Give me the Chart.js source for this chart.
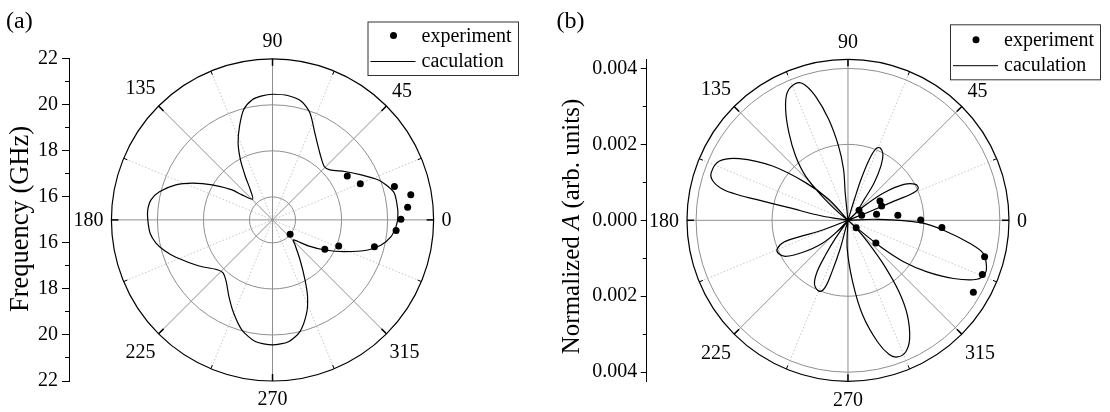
<!DOCTYPE html>
<html><head><meta charset="utf-8">
<script src="https://cdn.jsdelivr.net/npm/chart.js@4.4.1/dist/chart.umd.min.js"></script>
<style>
html,body{margin:0;padding:0;background:#fff;}
#wrap{position:relative;width:1110px;height:412px;overflow:hidden;}
.pane{position:absolute;top:0;width:555px;height:412px;}
</style></head><body>
<div id="wrap">
<div class="pane" style="left:0"><canvas id="ca" width="555" height="412"></canvas></div>
<div class="pane" style="left:555px"><canvas id="cb" width="555" height="412"></canvas></div>
</div>
<script>
// ---------------- shared ----------------
const angleLabels = [0, 45, 90, 135, 180, 225, 270, 315];
const legendLabels = ['experiment', 'caculation'];

// ---------------- panel (a): frequency (GHz) ----------------
const freqCenter = 15;
const freqMajorTicks = [16, 18, 20, 22];
const freqMinorTicks = [17, 19, 21];
const freqRings = [16, 18, 20];
const freqOuter = 22;
const calcA_theta = [0, 4.5, 12.3, 17, 20.7, 26.7, 33.6, 40.9, 45.7, 54.4, 63.8, 70.5, 76.1, 82.6,
  90, 94.9, 99.8, 104.8, 109.6, 114.3, 118.3, 122.2, 126.6, 134, 140.8, 143.6, 150, 155.5, 160.2, 166.1, 170.7, 175.5,
  180, 186.2, 191.2, 195.7, 201, 211.9, 220.7, 226.5, 232.9, 240.2, 247.3, 254.4, 261.9,
  270, 277.5, 283.9, 290.2, 294.7, 298.6, 304.7, 312.2, 316.4, 324.2, 330.3, 336.5, 342.6, 347.1, 352, 356.9, 360];
const calcA_r = [20.48, 20.5, 20.46, 20.2, 19.93, 19.35, 18.8, 18.32, 18.24, 18.56, 19.2, 19.92, 20.3, 20.44,
  20.46, 20.41, 20.29, 19.95, 19.31, 18.66, 17.96, 17.23, 16.63, 16.25, 16.72, 17.2, 18.05, 18.85, 19.5, 20.1, 20.39, 20.48,
  20.46, 20.39, 20.2, 19.92, 19.53, 18.79, 18.29, 18.16, 18.36, 18.84, 19.4, 19.97, 20.34,
  20.43, 20.34, 20.0, 19.32, 18.67, 17.97, 17.12, 16.47, 16.26, 16.93, 17.64, 18.45, 19.37, 19.88, 20.24, 20.41, 20.48];
const expA_theta = [30.3, 22.2, 15.2, 10.2, 5.3, 0.3, 355.1, 345.4, 338.7, 330.9, 321.1];
const expA_r = [18.79, 19.15, 20.53, 21.15, 20.94, 20.62, 20.43, 19.61, 18.11, 17.62, 15.99];

// ---------------- panel (b): normalized A ----------------
const ampMajorTicks = [0, 0.002, 0.004];
const ampMinorTicks = [0.001, 0.003];
const ampRings = [0.002, 0.004];
const ampOuter = 0.00424;
const calcB_theta = [
  0, 41, 37.2, 32.5, 27.8, 24.1, 22.4, 22.5, 21.8, 0, null,
  0, 43, 51.8, 54.9, 58.6, 61.9, 65.8, 68.5, 70.6, 72.2, 72.8, 0, null,
  0, 95.8, 95, 97.3, 100.9, 104.8, 108.1, 111.1, 115.6, 119.5, 124.2, 129.4, 134, 137.2, 141, 0, null,
  0, 132.9, 138.6, 144.5, 150.6, 155.4, 160.9, 163.9, 166.2, 167.1, 167.3, 168, 170.7, 0, null,
  0, 200.9, 198.6, 198.6, 201.7, 205.4, 209.8, 215, 221.6, 226.5, 0, null,
  0, 235, 236.9, 238.9, 242.3, 247.9, 251.1, 252.6, 254.6, 254.4, 0, null,
  0, 268.4, 274.4, 278.9, 283.8, 287.2, 290, 293.8, 297.7, 302.2, 305.7, 309, 312.4, 316.8, 0, null,
  0, 1.9, 358.2, 354.1, 349.3, 346.3, 342.1, 339, 335.6, 331.3, 327.1, 323.6, 321.2, 319.7, 0];
const calcB_r = [
  0, 0.00057, 0.0012, 0.00176, 0.00203, 0.00204, 0.0018, 0.00132, 0.00066, 0, null,
  0, 0.00029, 0.0007, 0.00121, 0.00168, 0.00197, 0.00209, 0.00203, 0.0017, 0.00113, 0.00058, 0, null,
  0, 0.00073, 0.00135, 0.00197, 0.00271, 0.00338, 0.00377, 0.00386, 0.00373, 0.00336, 0.00279, 0.00219, 0.00162, 0.00094, 0.00032, 0, null,
  0, 0.000755, 0.0015, 0.00246, 0.00331, 0.00375, 0.00384, 0.00373, 0.00342, 0.00296, 0.0025, 0.0016, 0.0007, 0, null,
  0, 0.000737, 0.00137, 0.00179, 0.00202, 0.00204, 0.00191, 0.00148, 0.00092, 0.00036, 0, null,
  0, 0.00059, 0.0011, 0.00159, 0.00191, 0.00202, 0.00186, 0.00143, 0.00077, 0.00027, 0, null,
  0, 0.00074, 0.00163, 0.00253, 0.0033, 0.0037, 0.00383, 0.00379, 0.00352, 0.00296, 0.00232, 0.00152, 0.00077, 0.00029, 0, null,
  0, 0.00078, 0.00193, 0.00255, 0.0033, 0.0037, 0.00386, 0.0039, 0.00376, 0.00319, 0.0025, 0.00185, 0.00112, 0.00034, 0];
const expB_theta = [41.8, 19.9, 11.8, 5.7, 0.2, 355.6, 345.2, 338.2, 330.3, 318.3, 321.2, 31.0, 22.9];
const expB_r = [0.000394, 0.000387, 0.000774, 0.00133, 0.00193, 0.0025, 0.00375, 0.00384, 0.00383, 0.00029, 0.00095, 0.00099, 0.00097];

// ---------------- helpers ----------------
const FONT = '"Liberation Serif", "Times New Roman", serif';
function toXY(thetas, rs, r0) {
  return thetas.map((t, i) => {
    const r = rs[i];
    if (t === null || r === null) return {x: null, y: null};
    const rho = r - r0, a = t * Math.PI / 180;
    return {x: rho * Math.cos(a), y: rho * Math.sin(a)};
  });
}

const polarGrid = {
  id: 'polarGrid',
  beforeDatasetsDraw(chart, args, o) {
    const xs = chart.scales.x, ys = chart.scales.y, ctx = chart.ctx;
    const cx = xs.getPixelForValue(0), cy = ys.getPixelForValue(0);
    const rad = v => cy - ys.getPixelForValue(v - o.r0);
    const R = rad(o.outer);
    ctx.save();
    const spoke = (deg, r1, r2) => {
      const a = deg * Math.PI / 180;
      ctx.beginPath();
      ctx.moveTo(cx + r1 * Math.cos(a), cy - r1 * Math.sin(a));
      ctx.lineTo(cx + r2 * Math.cos(a), cy - r2 * Math.sin(a));
      ctx.stroke();
    };
    ctx.lineWidth = 1;
    ctx.strokeStyle = '#c4c4c4'; ctx.setLineDash([1.5, 2]);
    o.angles.forEach(a => spoke(a + 22.5, 0, R));
    ctx.setLineDash([]);
    ctx.strokeStyle = '#8f8f8f';
    o.rings.forEach(v => { ctx.beginPath(); ctx.arc(cx, cy, rad(v), 0, Math.PI * 2); ctx.stroke(); });
    o.angles.forEach(a => spoke(a, 0, R));
    ctx.strokeStyle = '#000'; ctx.lineWidth = 1.2;
    ctx.beginPath(); ctx.arc(cx, cy, R, 0, Math.PI * 2); ctx.stroke();
    ctx.lineWidth = 1.5;
    o.angles.forEach(a => spoke(a, R - 7, R));
    ctx.lineWidth = 1;
    o.angles.forEach(a => spoke(a + 22.5, R - 4, R));
    ctx.restore();
  },
  afterDraw(chart, args, o) {
    const xs = chart.scales.x, ys = chart.scales.y, ctx = chart.ctx;
    const cx = xs.getPixelForValue(0), cy = ys.getPixelForValue(0);
    const R = cy - ys.getPixelForValue(o.outer - o.r0);
    ctx.save();
    ctx.font = `20px ${FONT}`; ctx.fillStyle = '#000';
    ctx.textAlign = 'center'; ctx.textBaseline = 'middle';
    o.angles.forEach(deg => {
      const txt = String(deg), a = deg * Math.PI / 180;
      const w = ctx.measureText(txt).width, h = 20;
      const d = R + 8 + Math.abs(Math.cos(a)) * w / 2 + Math.abs(Math.sin(a)) * h / 2;
      ctx.fillText(txt, cx + d * Math.cos(a), cy - d * Math.sin(a) + 1);
    });
    ctx.restore();
  }
};

const decor = {
  id: 'decor',
  afterDraw(chart, args, o) {
    const ctx = chart.ctx;
    ctx.save();
    ctx.fillStyle = '#000';
    ctx.font = `24px ${FONT}`; ctx.textAlign = 'left'; ctx.textBaseline = 'alphabetic';
    ctx.fillText(o.panel, o.panelX, o.panelY);
    // rotated y-axis title
    ctx.translate(o.titleX, o.titleY); ctx.rotate(-Math.PI / 2);
    const fontOf = p => `${p.italic ? 'italic ' : ''}${o.titleSize}px ${FONT}`;
    let total = 0;
    o.title.forEach(p => { ctx.font = fontOf(p); total += ctx.measureText(p.text).width; });
    let x = -total / 2;
    o.title.forEach(p => { ctx.font = fontOf(p); ctx.fillText(p.text, x, 0); x += ctx.measureText(p.text).width; });
    ctx.restore();
    // legend box
    const L = o.legend;
    ctx.save();
    ctx.strokeStyle = '#333'; ctx.lineWidth = 1;
    ctx.strokeRect(L.x + 0.5, L.y + 0.5, L.w, L.h);
    ctx.font = `20px ${FONT}`; ctx.textBaseline = 'middle'; ctx.fillStyle = '#000';
    chart.data.datasets.forEach((ds, i) => {
      const yy = L.y + L.rows[i];
      if (ds.showLine) {
        ctx.strokeStyle = '#000'; ctx.lineWidth = 1;
        ctx.beginPath(); ctx.moveTo(L.x + 3, yy); ctx.lineTo(L.x + 48, yy); ctx.stroke();
      } else {
        ctx.beginPath(); ctx.arc(L.x + 26, yy - 1, 3.5, 0, Math.PI * 2); ctx.fill();
      }
      ctx.fillText(ds.label, L.x + 54, yy);
    });
    ctx.restore();
  }
};

function makeYAxis(center, major, minor, minV, maxV, width, fmt, tl, pad) {
  const isMinor = v => minor.some(m => Math.abs(Math.abs(v) - (m - center)) < 1e-9);
  return {
    min: minV, max: maxV,
    afterFit(s) { s.width = width; },
    afterBuildTicks(s) {
      const vals = [];
      major.concat(minor).forEach(m => {
        const d = m - center;
        vals.push(d);
        if (d !== 0) vals.push(-d);
      });
      vals.sort((a, b) => a - b);
      s.ticks = vals.map(v => ({value: v}));
    },
    ticks: {
      autoSkip: false, color: '#000', padding: pad,
      font: {family: FONT, size: 20},
      callback: v => isMinor(v) ? '' : fmt(Math.abs(v) + center)
    },
    grid: {
      drawOnChartArea: false, drawTicks: true, tickLength: tl, tickColor: '#000', tickWidth: 1,
      tickBorderDash: c => (c.tick && isMinor(c.tick.value)) ? [0, tl - 4, 4, 100] : []
    },
    border: {display: true, color: '#000', width: 1}
  };
}

function makeChart(id, cfg) {
  return new Chart(document.getElementById(id), {
    type: 'scatter',
    data: {
      datasets: [
        {label: legendLabels[0], data: cfg.exp, showLine: false, pointRadius: 3.5, pointHoverRadius: 3.5,
         backgroundColor: '#000', borderWidth: 0, order: 0},
        {label: legendLabels[1], data: cfg.calc, showLine: true, pointRadius: 0, borderColor: '#000',
         borderWidth: 1.2, tension: cfg.tension, spanGaps: false, fill: false, order: 1}
      ]
    },
    options: {
      responsive: false, animation: false, devicePixelRatio: 1,
      layout: {padding: cfg.padding},
      scales: {
        x: {type: 'linear', display: false, min: cfg.xmin, max: cfg.xmax},
        y: cfg.y
      },
      plugins: {
        legend: {display: false}, tooltip: {enabled: false},
        polarGrid: cfg.polar, decor: cfg.decor
      }
    },
    plugins: [polarGrid, decor]
  });
}

// panel (a)
makeChart('ca', {
  exp: toXY(expA_theta, expA_r, freqCenter),
  calc: toXY(calcA_theta, calcA_r, freqCenter),
  tension: 0.25,
  padding: {left: 0, right: 0, top: 58.8, bottom: 31},
  xmin: -8.909, xmax: 12.212,
  y: makeYAxis(freqCenter, freqMajorTicks, freqMinorTicks, -7, 7, 69, v => String(Math.round(v)), 7, 4),
  polar: {r0: freqCenter, rings: freqRings, outer: freqOuter, angles: angleLabels},
  decor: {panel: '(a)', panelX: 6, panelY: 28,
          title: [{text: 'Frequency (GHz)'}], titleSize: 26.5, titleX: 27.5, titleY: 219,
          legend: {x: 367.5, y: 21.5, w: 150.5, h: 53.5, rows: [15, 40]}}
});

// panel (b)
makeChart('cb', {
  exp: toXY(expB_theta, expB_r, 0),
  calc: toXY(calcB_theta, calcB_r, 0),
  tension: 0.35,
  padding: {left: 0, right: 0, top: 59.3, bottom: 30.7},
  xmin: -0.005341, xmax: 0.006860,
  y: makeYAxis(0, ampMajorTicks, ampMinorTicks, -ampOuter, ampOuter, 91.7, v => v.toFixed(3), 6, 3.5),
  polar: {r0: 0, rings: ampRings, outer: ampOuter, angles: angleLabels},
  decor: {panel: '(b)', panelX: 1.5, panelY: 28,
          title: [{text: 'Normalized '}, {text: 'A', italic: true}, {text: ' (arb. units)'}], titleSize: 25, titleX: 23.5, titleY: 226.5,
          legend: {x: 395, y: 24.3, w: 150, h: 55, rows: [16.5, 41.4]}}
});
</script>
</body></html>
